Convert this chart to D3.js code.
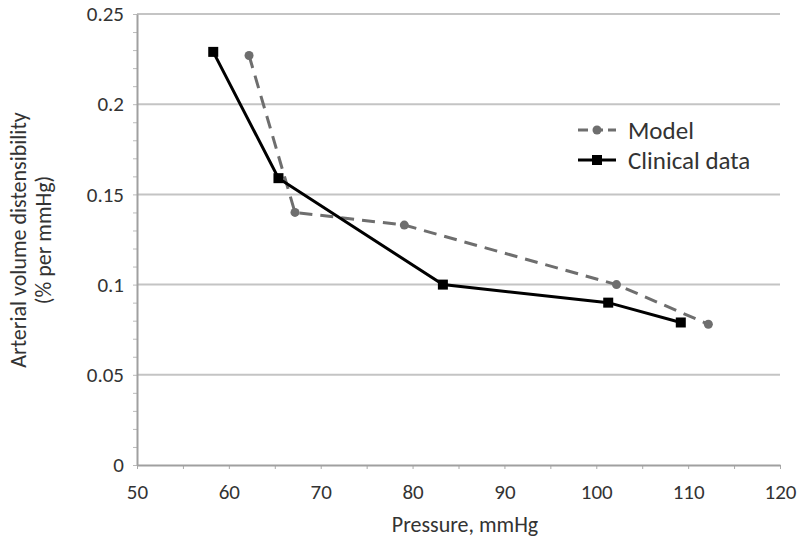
<!DOCTYPE html>
<html>
<head>
<meta charset="utf-8">
<script src="https://cdn.jsdelivr.net/npm/d3@7"></script>
<style>
  body { margin: 0; background: #fff; }
  text { font-family: Calibri, Carlito, "Open Sans", sans-serif; fill: #333; }
</style>
</head>
<body>
<div id="chart"></div>
<script>
// values
const modelPressure = [62.2, 67.2, 79.1, 102.2, 112.2];
const modelValues = [0.227, 0.14, 0.133, 0.1, 0.078];
const clinicalPressure = [58.3, 65.4, 83.3, 101.3, 109.2];
const clinicalValues = [0.229, 0.159, 0.1, 0.09, 0.079];
const xTicks = [50, 60, 70, 80, 90, 100, 110, 120];
const yTicks = [0, 0.05, 0.1, 0.15, 0.2, 0.25];
const seriesNames = ['Model', 'Clinical data'];

var svgwidth = 797;
var svgheight = 548;

const svg = d3.select('#chart')
    .append('svg')
    .attr('width', svgwidth)
    .attr('height', svgheight);

var margin = { left: 137, top: 14, right: 17, bottom: 83 };
var inner_width = svgwidth - margin.left - margin.right;
var inner_height = svgheight - margin.top - margin.bottom;

const g = svg.append('g')
    .attr('transform', `translate(${margin.left}, ${margin.top})`);

const xscale = d3.scaleLinear().domain([50, 120]).range([0, inner_width]);
const yscale = d3.scaleLinear().domain([0, 0.25]).range([inner_height, 0]);

// horizontal gridlines
g.selectAll('.grid')
    .data(yTicks.slice(1))
    .enter()
    .append('line')
    .attr('x1', 0)
    .attr('x2', inner_width)
    .attr('y1', d => yscale(d))
    .attr('y2', d => yscale(d))
    .attr('stroke', '#c4c4c4')
    .attr('stroke-width', 2);

// minor ticks on y axis (every 0.01)
const yMinor = d3.range(0, 26).map(i => i / 100);
g.append('g')
    .call(d3.axisLeft(yscale).tickValues(yMinor).tickSize(4).tickFormat(''))
    .call(a => a.select('.domain').remove())
    .selectAll('line').attr('stroke', '#bbb');

// minor ticks on x axis (every 5)
g.append('g')
    .attr('transform', `translate(0, ${inner_height})`)
    .call(d3.axisBottom(xscale).tickValues(d3.range(50, 121, 5)).tickSize(4).tickFormat(''))
    .call(a => a.select('.domain').remove())
    .selectAll('line').attr('stroke', '#aaa');

// y axis
const yaxis = g.append('g')
    .call(d3.axisLeft(yscale).tickValues(yTicks).tickSize(0).tickPadding(13)
        .tickFormat(d => d3.format('')(+d.toFixed(2))));
yaxis.select('.domain').attr('stroke', '#a0a0a0').attr('stroke-width', 2);
yaxis.selectAll('text').style('font-size', '21px').style('fill', '#333');

// x axis
const xaxis = g.append('g')
    .attr('transform', `translate(0, ${inner_height})`)
    .call(d3.axisBottom(xscale).tickValues(xTicks).tickSize(0).tickPadding(19));
xaxis.select('.domain').attr('stroke', '#a0a0a0').attr('stroke-width', 2);
xaxis.selectAll('text').style('font-size', '21px').style('fill', '#333');

// axis titles
svg.append('text')
    .attr('transform', 'translate(18, 240) rotate(-90)')
    .attr('text-anchor', 'middle')
    .attr('dy', '0.35em')
    .style('font-size', '22px')
    .text('Arterial volume distensibility');
svg.append('text')
    .attr('transform', 'translate(43, 240) rotate(-90)')
    .attr('text-anchor', 'middle')
    .attr('dy', '0.35em')
    .style('font-size', '22px')
    .text('(% per mmHg)');
svg.append('text')
    .attr('x', 465)
    .attr('y', 532)
    .attr('text-anchor', 'middle')
    .style('font-size', '22px')
    .text('Pressure, mmHg');

const line = d3.line()
    .x(d => xscale(d[0]))
    .y(d => yscale(d[1]));

const modelData = modelPressure.map((p, i) => [p, modelValues[i]]);
const clinicalData = clinicalPressure.map((p, i) => [p, clinicalValues[i]]);

// model series
g.append('path')
    .datum(modelData)
    .attr('d', line)
    .attr('fill', 'none')
    .attr('stroke', '#6e6e6e')
    .attr('stroke-width', 3)
    .attr('stroke-dasharray', '13,8');
g.selectAll('.model-pt')
    .data(modelData)
    .enter()
    .append('circle')
    .attr('cx', d => xscale(d[0]))
    .attr('cy', d => yscale(d[1]))
    .attr('r', 4.5)
    .attr('fill', '#6e6e6e');

// clinical series
g.append('path')
    .datum(clinicalData)
    .attr('d', line)
    .attr('fill', 'none')
    .attr('stroke', '#000')
    .attr('stroke-width', 3);
g.selectAll('.clin-pt')
    .data(clinicalData)
    .enter()
    .append('rect')
    .attr('x', d => xscale(d[0]) - 5)
    .attr('y', d => yscale(d[1]) - 5)
    .attr('width', 10)
    .attr('height', 10)
    .attr('fill', '#000');

// legend
const legend = svg.append('g').attr('transform', 'translate(578, 130)');
seriesNames.forEach((name, i) => {
    const row = legend.append('g').attr('transform', `translate(0, ${i * 30})`);
    row.append('line')
        .attr('x1', 0).attr('x2', 38)
        .attr('stroke', i === 0 ? '#6e6e6e' : '#000')
        .attr('stroke-width', 3)
        .attr('stroke-dasharray', i === 0 ? '10,5' : null);
    if (i === 0) {
        row.append('circle').attr('cx', 19).attr('r', 4.5).attr('fill', '#6e6e6e');
    } else {
        row.append('rect').attr('x', 14).attr('y', -5).attr('width', 10).attr('height', 10).attr('fill', '#000');
    }
    row.append('text')
        .attr('x', 50)
        .attr('dy', '0.35em')
        .style('font-size', '25px')
        .text(name);
});
</script>
</body>
</html>
